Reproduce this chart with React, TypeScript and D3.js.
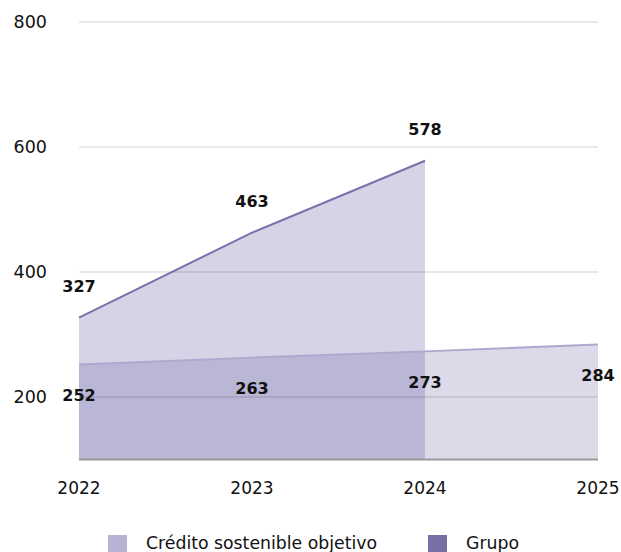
import React from "react";
import * as d3 from "d3";

const years = ["2022", "2023", "2024", "2025"];
const grupoYears = ["2022", "2023", "2024"];
const grupoValues = [327, 463, 578];
const creditoValues = [252, 263, 273, 284];
const yTicks = [200, 400, 600, 800];
const seriesNames = ["Crédito sostenible objetivo", "Grupo"];

const W = 621;
const H = 552;
const FONT = "'DejaVu Sans', Verdana, sans-serif";

export default function App() {
  const x = d3.scalePoint<string>().domain(years).range([79, 598]);
  const y = d3.scaleLinear().domain([100, 800]).range([459.5, 22]);

  const grupoData = grupoYears.map((yr, i) => ({ yr, v: grupoValues[i] }));
  const credData = years.map((yr, i) => ({ yr, v: creditoValues[i] }));
  const overlapData = credData.filter((d) => grupoYears.includes(d.yr));
  const lastGrupo = grupoYears[grupoYears.length - 1];
  const credOnly = credData.filter((d) => !grupoYears.includes(d.yr) || d.yr === lastGrupo);

  const area = d3
    .area<{ yr: string; v: number }>()
    .x((d) => x(d.yr)!)
    .y0(y(100))
    .y1((d) => y(d.v));
  const line = d3
    .line<{ yr: string; v: number }>()
    .x((d) => x(d.yr)!)
    .y((d) => y(d.v));

  const legendItems = [
    { name: seriesNames[0], color: "#b8b2d4", sx: 108, tx: 146 },
    { name: seriesNames[1], color: "#7a6ea6", sx: 428, tx: 466 },
  ];

  return (
    <svg
      width={W}
      height={H}
      style={{ position: "absolute", left: 0, top: 0, background: "#fff" }}
      fontFamily={FONT}
    >
      {/* areas */}
      <path d={area(grupoData)!} fill="#d6d3e6" />
      <path d={area(credOnly)!} fill="#dcd9e8" />
      <path d={area(overlapData)!} fill="#bab6d5" />
      {/* grid lines */}
      {yTicks.map((t) => (
        <line key={"go" + t} x1={79} x2={598} y1={y(t)} y2={y(t)} stroke="rgba(0,0,0,0.085)" strokeWidth={2} />
      ))}
      {/* lines */}
      <path d={line(credData)!} fill="none" stroke="#aea8cf" strokeWidth={2} />
      <path d={line(grupoData)!} fill="none" stroke="#7b70ae" strokeWidth={2} />
      {/* baseline */}
      <line x1={79} x2={598} y1={y(100)} y2={y(100)} stroke="#9a9a9a" strokeWidth={2} />
      {/* y tick labels */}
      {yTicks.map((t) => (
        <text key={"yt" + t} x={47} y={y(t)} dy="0.35em" textAnchor="end" fontSize={17.5} fill="#111">
          {t}
        </text>
      ))}
      {/* x tick labels */}
      {years.map((yr) => (
        <text key={"xt" + yr} x={x(yr)!} y={488} dy="0.35em" textAnchor="middle" fontSize={17} fill="#111">
          {yr}
        </text>
      ))}
      {/* data labels */}
      {grupoData.map((d) => (
        <text key={"gl" + d.yr} x={x(d.yr)!} y={y(d.v) - 31} dy="0.35em" textAnchor="middle" fontSize={16} fontWeight="bold" fill="#111">
          {d.v}
        </text>
      ))}
      {credData.map((d) => (
        <text key={"cl" + d.yr} x={x(d.yr)!} y={y(d.v) + 31} dy="0.35em" textAnchor="middle" fontSize={16} fontWeight="bold" fill="#111">
          {d.v}
        </text>
      ))}
      {/* legend */}
      {legendItems.map((it) => (
        <g key={it.name}>
          <rect x={it.sx} y={535} width={19} height={18} fill={it.color} />
          <text x={it.tx} y={543} dy="0.35em" fontSize={17.3} fill="#111">
            {it.name}
          </text>
        </g>
      ))}
    </svg>
  );
}
